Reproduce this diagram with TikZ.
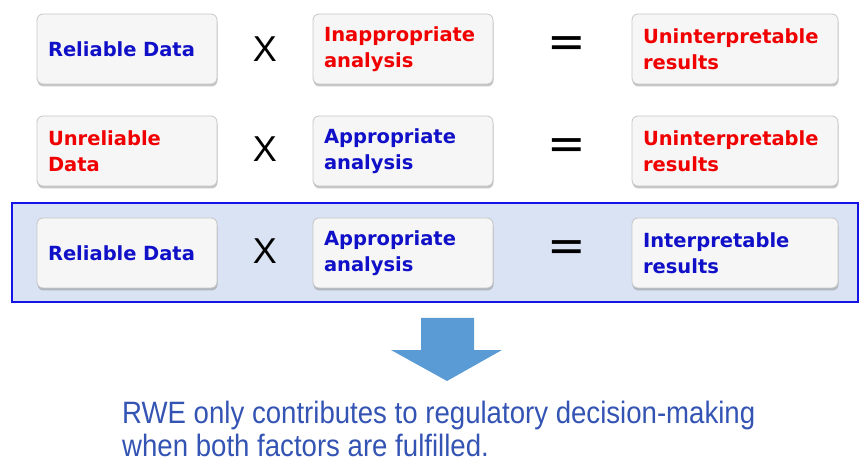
\documentclass[tikz,border=0pt]{standalone}
\usepackage{fontspec}
\setmainfont{Liberation Sans}
\newfontfamily\boxfont{DejaVu Sans}
\usetikzlibrary{shadows}
\definecolor{txtblue}{RGB}{16,16,200}
\definecolor{txtred}{RGB}{240,0,0}
\definecolor{bandfill}{RGB}{218,227,243}
\definecolor{bandline}{RGB}{20,20,230}
\definecolor{arrowblue}{RGB}{91,155,213}
\definecolor{rwetext}{RGB}{52,84,180}
\tikzset{
factor/.style={rectangle, rounded corners=6pt, draw=gray!45, line width=0.8pt,
  fill=gray!7, minimum height=70pt, inner xsep=11pt, align=left,
  font=\boxfont\bfseries\fontsize{19.5}{25.5}\selectfont,
  drop shadow={shadow xshift=0.5pt, shadow yshift=-2.5pt, opacity=0.45, fill=gray}},
small/.style={factor, text width=158pt},
wide/.style={factor, text width=184pt},
times/.style={font=\fontsize{36}{36}\selectfont},
equals/.style={font=\boxfont\fontsize{46}{46}\selectfont}
}

\begin{document}
\begin{tikzpicture}[x=1pt,y=-1pt]
\useasboundingbox (0,0) rectangle (862,462);

% highlighted row
\draw[fill=bandfill, draw=bandline, line width=1.8pt] (12,203) rectangle (858,302);

% row 1
\node[small, text=txtblue] (data1) at (127,49) {Reliable Data};
\node[times] (times1) at (265,49) {X};
\node[small, text=txtred] (anal1) at (403,49) {Inappropriate\\analysis};
\node[equals] (eq1) at (567,47) {=};
\node[wide, text=txtred] (res1) at (735,49) {Uninterpretable\\results};

% row 2
\node[small, text=txtred] (data2) at (127,151) {Unreliable\\Data};
\node[times] (times2) at (265,149) {X};
\node[small, text=txtblue] (anal2) at (403,151) {Appropriate\\analysis};
\node[equals] (eq2) at (567,149) {=};
\node[wide, text=txtred] (res2) at (735,151) {Uninterpretable\\results};

% row 3
\node[small, text=txtblue] (data3) at (127,253) {Reliable Data};
\node[times] (times3) at (265,251) {X};
\node[small, text=txtblue] (anal3) at (403,253) {Appropriate\\analysis};
\node[equals] (eq3) at (567,251) {=};
\node[wide, text=txtblue] (res3) at (735,253) {Interpretable\\results};

% down arrow
\fill[arrowblue] (421,318) -- (474,318) -- (474,350) -- (502,350) -- (447,381)
  -- (391,350) -- (421,350) -- cycle;

% conclusion
\node[anchor=north west, align=left, inner sep=0pt, text=rwetext, yscale=1.12,
  transform shape, font=\fontsize{27.6}{29.5}\selectfont] (concl) at (122,401)
  {RWE only contributes to regulatory decision-making\\when both factors are fulfilled.};
\end{tikzpicture}
\end{document}
